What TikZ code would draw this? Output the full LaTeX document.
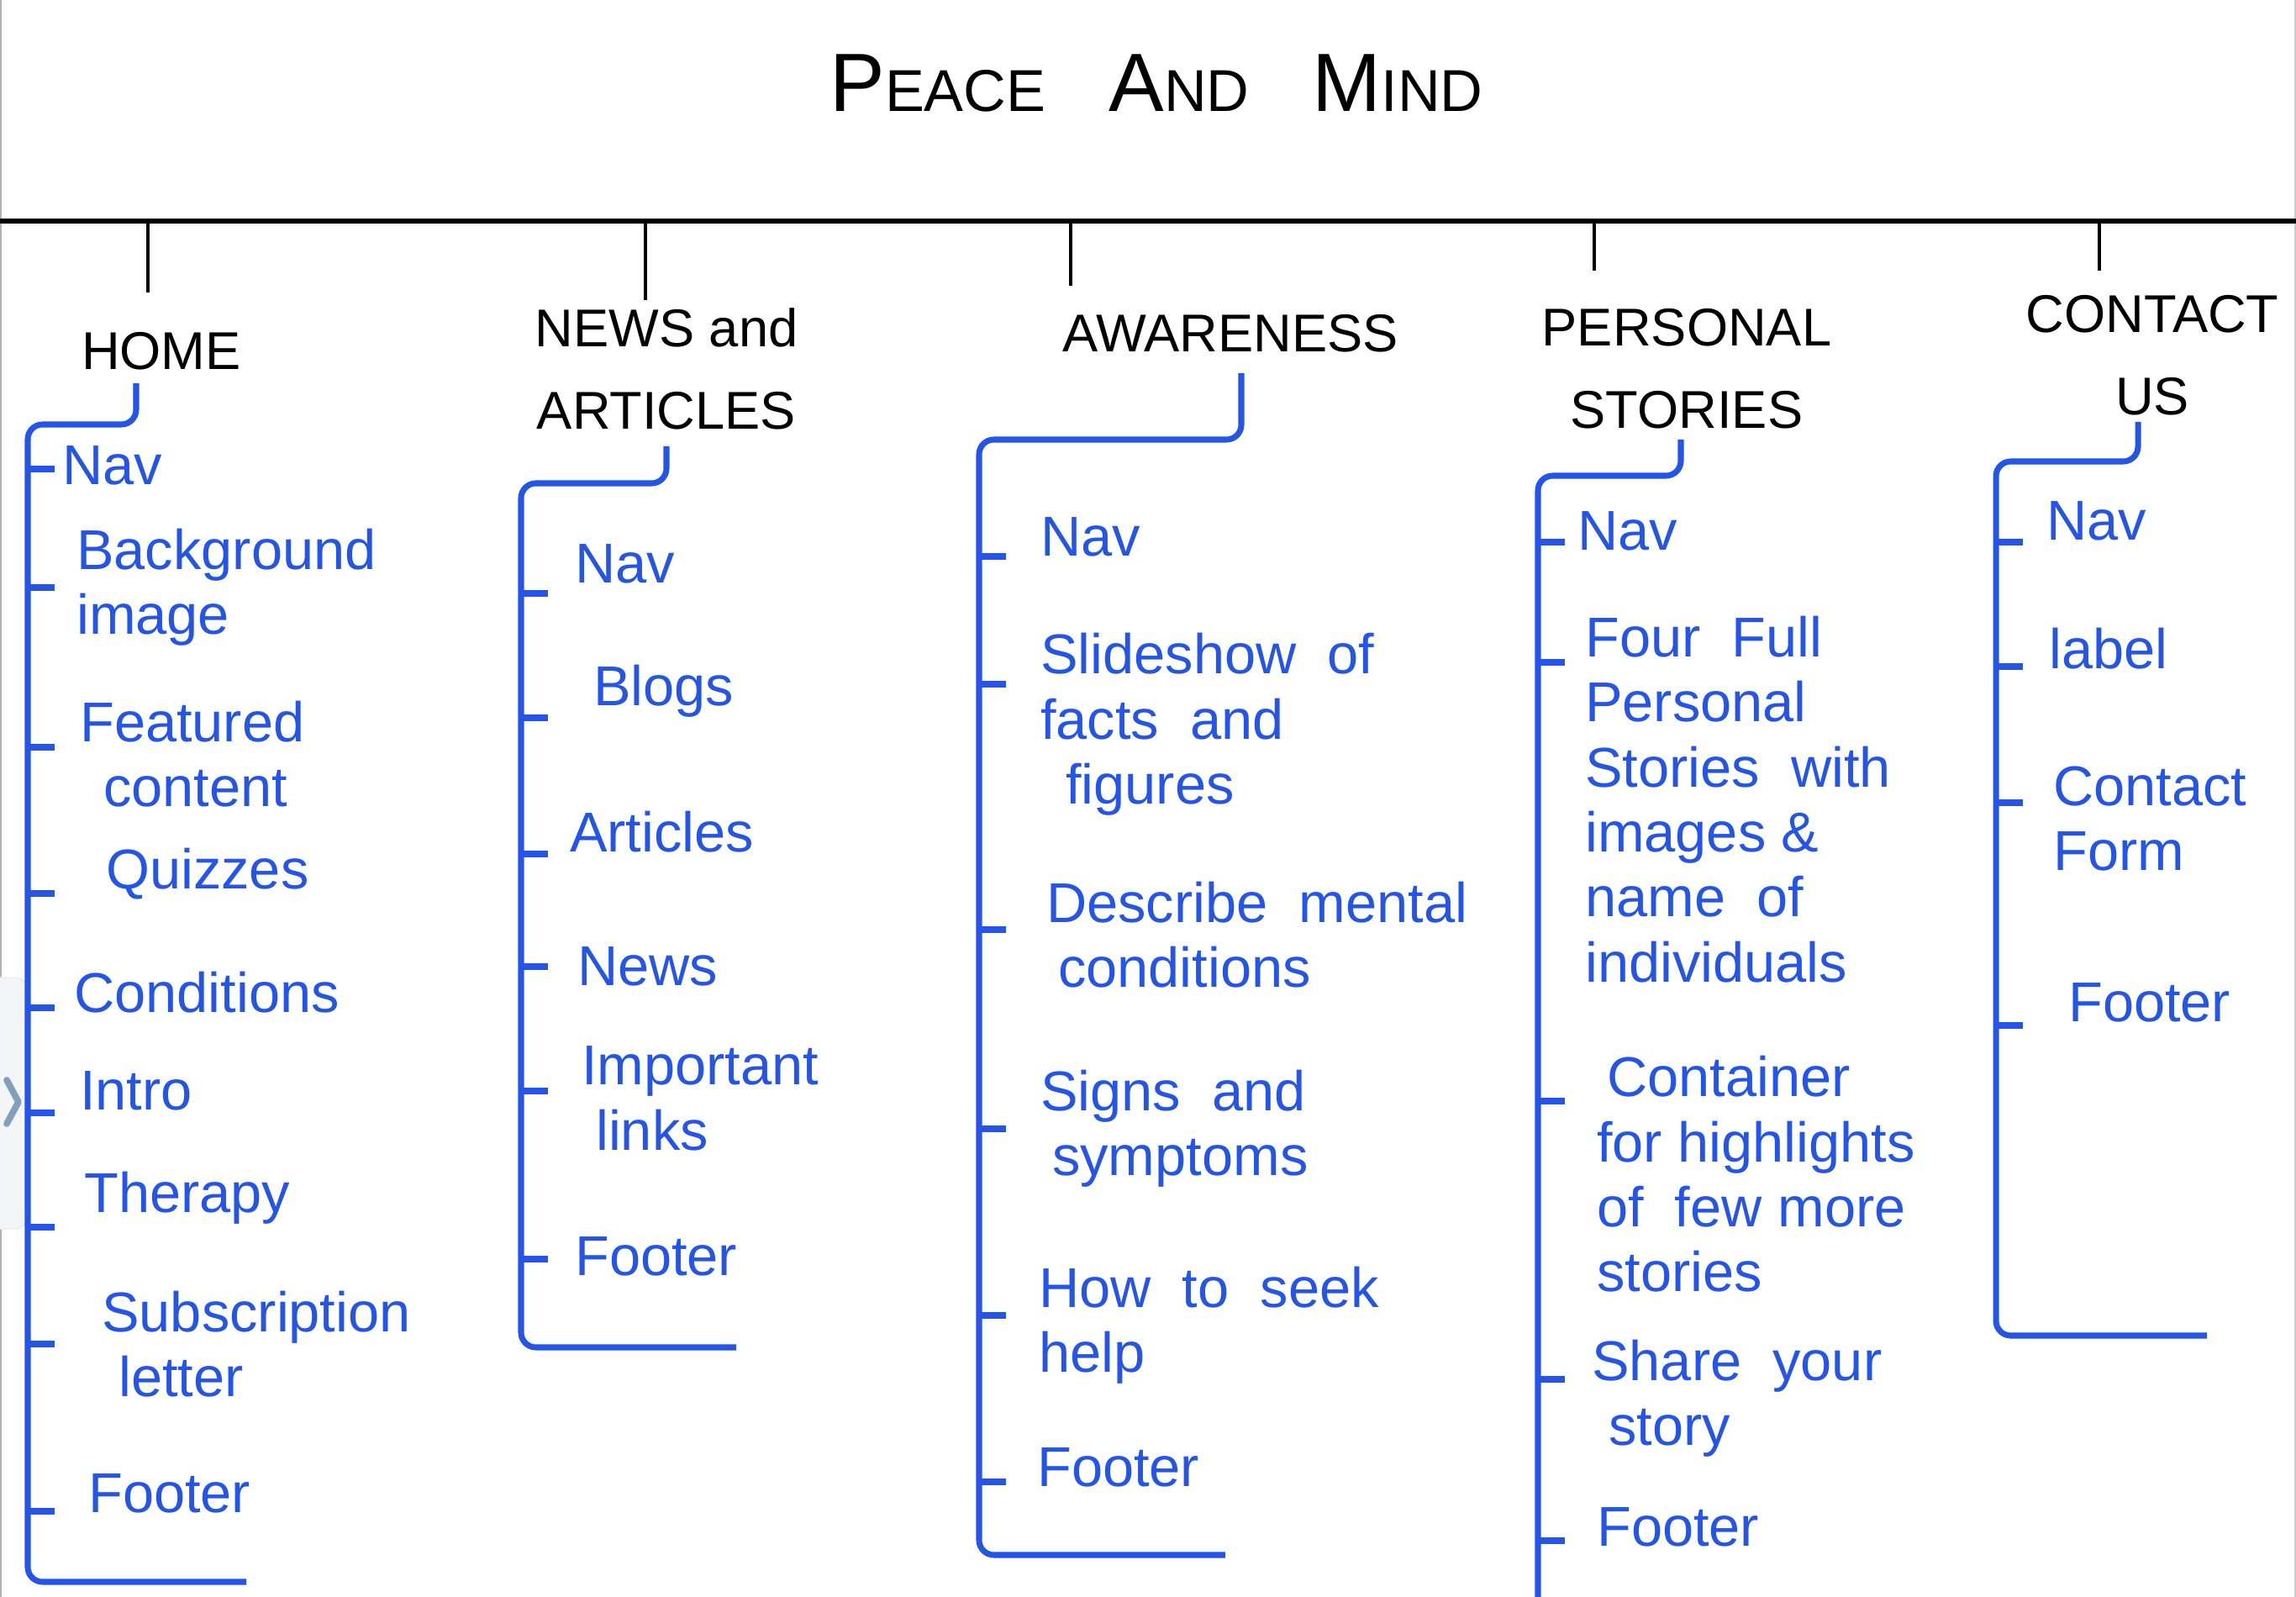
\documentclass[tikz,border=0pt]{standalone}
\usepackage{fontspec}
\setmainfont{Liberation Sans}
\usepackage{tikz}
\definecolor{sketch-blue}{RGB}{36, 84, 232}
\definecolor{tab-gray}{RGB}{244, 245, 246}
\definecolor{chevron-gray}{RGB}{128, 160, 190}
\newcommand{\capbig}[1]{{\fontsize{28}{28}\selectfont #1}}
\newcommand{\capsmall}[1]{{\fontsize{20}{20}\selectfont #1}}

\begin{document}
\begin{tikzpicture}[
        head/.style={align=center, font=\fontsize{18}{28}\selectfont, inner sep=1pt},
        item/.style={anchor=west, align=left, text=sketch-blue, font=\fontsize{19}{22}\selectfont, inner sep=1pt},
        bar/.style={line width=1.6pt},
        stem/.style={line width=1.2pt},
        branch/.style={draw=sketch-blue, line width=2pt, rounded corners=5pt},
        tick/.style={draw=sketch-blue, line width=2pt}
    ]
        \useasboundingbox (0,0) rectangle (27.32,-19);
        % Page frame and side tab
        \draw[gray!60, line width=0.8pt] (0.01,0) -- (0.01,-19);
        \draw[gray!40, line width=0.8pt] (27.31,0) -- (27.31,-19);
        \draw[fill=tab-gray, draw=gray!15, rounded corners=4pt] (-0.2,-11.63) rectangle (0.32,-14.62);
        \draw[chevron-gray, line width=2.2pt, line cap=round, line join=round] (0.08,-12.85) -- (0.22,-13.11) -- (0.08,-13.37);

        % Title and header bar
        \node (title) at (13.76,-0.99) {\capbig{P}\capsmall{EACE}\hspace{0.75cm}\capbig{A}\capsmall{ND}\hspace{0.75cm}\capbig{M}\capsmall{IND}};
        \coordinate (barL) at (0,-2.63);
        \coordinate (barR) at (27.32,-2.63);
        \draw[bar] (barL) -- (barR);

        % Page headings
        \node[head] (home) at (1.92,-4.18) {HOME};
        \node[head] (news) at (7.93,-4.39) {NEWS and\\ARTICLES};
        \node[head] (aware) at (14.64,-3.97) {AWARENESS};
        \node[head] (stories) at (20.07,-4.39) {PERSONAL\\STORIES};
        \node[head] (contact) at (25.61,-4.23) {CONTACT\\US};

        % Stems from the header bar
        \draw[stem] (barL -| 1.76,0) -- ++(0,-0.85);
        \draw[stem] (barL -| 7.68,0) -- ++(0,-0.94);
        \draw[stem] (barL -| 12.74,0) -- ++(0,-0.77);
        \draw[stem] (barL -| 18.97,0) -- ++(0,-0.59);
        \draw[stem] (barL -| 24.98,0) -- ++(0,-0.59);

        % Home
        \coordinate (hStub) at (1.62,-4.56);
        \coordinate (hSpine) at (0.33,-5.05);
        \draw[branch] (hStub) |- (hSpine) -- ++(0,-13.77) -- ++(2.6,0);
        \node[item] (hNav) at (0.70,-5.54) {Nav};
        \node[item] (hBack) at (0.87,-6.99) {Background\\image};
        \node[item] (hFeat) at (0.91,-8.97) {Featured\\\hspace*{0.28cm}content};
        \node[item] (hQuiz) at (1.22,-10.40) {Quizzes};
        \node[item] (hCond) at (0.84,-11.81) {Conditions};
        \node[item] (hIntro) at (0.91,-12.98) {Intro};
        \node[item] (hTher) at (0.96,-14.25) {Therapy};
        \node[item] (hSubs) at (1.17,-15.99) {Subscription\\\hspace*{0.2cm}letter};
        \node[item] (hFoot) at (1.01,-17.77) {Footer};
        \draw[tick] (hSpine |- hNav.west) ++(0,-0.04) -- ++(0.32,0);
        \draw[tick] (hSpine |- hBack.west) -- ++(0.32,0);
        \draw[tick] (hSpine |- hFeat.west) ++(0,0.08) -- ++(0.32,0);
        \draw[tick] (hSpine |- hQuiz.west) ++(0,-0.23) -- ++(0.32,0);
        \draw[tick] (hSpine |- hCond.west) ++(0,-0.18) -- ++(0.32,0);
        \draw[tick] (hSpine |- hIntro.west) ++(0,-0.26) -- ++(0.32,0);
        \draw[tick] (hSpine |- hTher.west) ++(0,-0.35) -- ++(0.32,0);
        \draw[tick] (hSpine |- hSubs.west) -- ++(0.32,0);
        \draw[tick] (hSpine |- hFoot.west) ++(0,-0.21) -- ++(0.32,0);

        % News and articles
        \coordinate (nStub) at (7.93,-5.31);
        \coordinate (nSpine) at (6.20,-5.75);
        \draw[branch] (nStub) |- (nSpine) -- ++(0,-10.28) -- ++(2.56,0);
        \node[item] (nNav) at (6.80,-6.71) {Nav};
        \node[item] (nBlog) at (7.02,-8.22) {Blogs};
        \node[item] (nArt) at (6.74,-9.90) {Articles};
        \node[item] (nNews) at (6.83,-11.50) {News};
        \node[item] (nLink) at (6.88,-13.07) {Important\\\hspace*{0.17cm}links};
        \node[item] (nFoot) at (6.80,-14.95) {Footer};
        \draw[tick] (nSpine |- nNav.west) ++(0,-0.35) -- ++(0.32,0);
        \draw[tick] (nSpine |- nBlog.west) ++(0,-0.32) -- ++(0.32,0);
        \draw[tick] (nSpine |- nArt.west) ++(0,-0.26) -- ++(0.32,0);
        \draw[tick] (nSpine |- nNews.west) -- ++(0.32,0);
        \draw[tick] (nSpine |- nLink.west) ++(0,0.09) -- ++(0.32,0);
        \draw[tick] (nSpine |- nFoot.west) ++(0,-0.03) -- ++(0.32,0);

        % Awareness
        \coordinate (aStub) at (14.77,-4.44);
        \coordinate (aSpine) at (11.65,-5.23);
        \draw[branch] (aStub) |- (aSpine) -- ++(0,-13.27) -- ++(2.93,0);
        \node[item] (aNav) at (12.34,-6.39) {Nav};
        \node[item] (aSlide) at (12.34,-8.62) {Slideshow\ \ of\\facts\ \ and\\\hspace*{0.3cm}figures};
        \node[item] (aDesc) at (12.41,-11.12) {Describe\ \ mental\\\hspace*{0.14cm}conditions};
        \node[item] (aSign) at (12.34,-13.43) {Signs\ \ and\\\hspace*{0.14cm}symptoms};
        \node[item] (aHelp) at (12.32,-15.77) {How\ \ to\ \ seek\\help};
        \node[item] (aFoot) at (12.30,-17.46) {Footer};
        \draw[tick] (aSpine |- aNav.west) ++(0,-0.23) -- ++(0.32,0);
        \draw[tick] (aSpine |- aSlide.west) ++(0,0.48) -- ++(0.32,0);
        \draw[tick] (aSpine |- aDesc.west) ++(0,0.06) -- ++(0.32,0);
        \draw[tick] (aSpine |- aSign.west) -- ++(0.32,0);
        \draw[tick] (aSpine |- aHelp.west) ++(0,0.12) -- ++(0.32,0);
        \draw[tick] (aSpine |- aFoot.west) ++(0,-0.17) -- ++(0.32,0);

        % Personal stories
        \coordinate (pStub) at (20.00,-5.23);
        \coordinate (pSpine) at (18.30,-5.66);
        \draw[branch] (pStub) |- (pSpine) -- ++(0,-13.40);
        \node[item] (pNav) at (18.73,-6.32) {Nav};
        \node[item] (pFour) at (18.82,-9.51) {Four\ \ Full\\Personal\\Stories\ \ with\\images \&\\name\ \ of\\individuals};
        \node[item] (pCont) at (18.96,-13.97) {\hspace*{0.12cm}Container\\for highlights\\of\ \ few more\\stories};
        \node[item] (pShare) at (18.90,-16.64) {Share\ \ your\\\hspace*{0.2cm}story};
        \node[item] (pFoot) at (18.96,-18.17) {Footer};
        \draw[tick] (pSpine |- pNav.west) ++(0,-0.13) -- ++(0.32,0);
        \draw[tick] (pSpine |- pFour.west) ++(0,1.63) -- ++(0.32,0);
        \draw[tick] (pSpine |- pCont.west) ++(0,0.87) -- ++(0.32,0);
        \draw[tick] (pSpine |- pShare.west) ++(0,0.23) -- ++(0.32,0);
        \draw[tick] (pSpine |- pFoot.west) ++(0,-0.16) -- ++(0.32,0);

        % Contact us
        \coordinate (cStub) at (25.44,-5.02);
        \coordinate (cSpine) at (23.75,-5.49);
        \draw[branch] (cStub) |- (cSpine) -- ++(0,-10.40) -- ++(2.51,0);
        \node[item] (cNav) at (24.31,-6.20) {Nav};
        \node[item] (cLabel) at (24.34,-7.72) {label};
        \node[item] (cForm) at (24.39,-9.74) {Contact\\Form};
        \node[item] (cFoot) at (24.57,-11.93) {Footer};
        \draw[tick] (cSpine |- cNav.west) ++(0,-0.25) -- ++(0.32,0);
        \draw[tick] (cSpine |- cLabel.west) ++(0,-0.21) -- ++(0.32,0);
        \draw[tick] (cSpine |- cForm.west) ++(0,0.19) -- ++(0.32,0);
        \draw[tick] (cSpine |- cFoot.west) ++(0,-0.27) -- ++(0.32,0);
    \end{tikzpicture}
\end{document}
